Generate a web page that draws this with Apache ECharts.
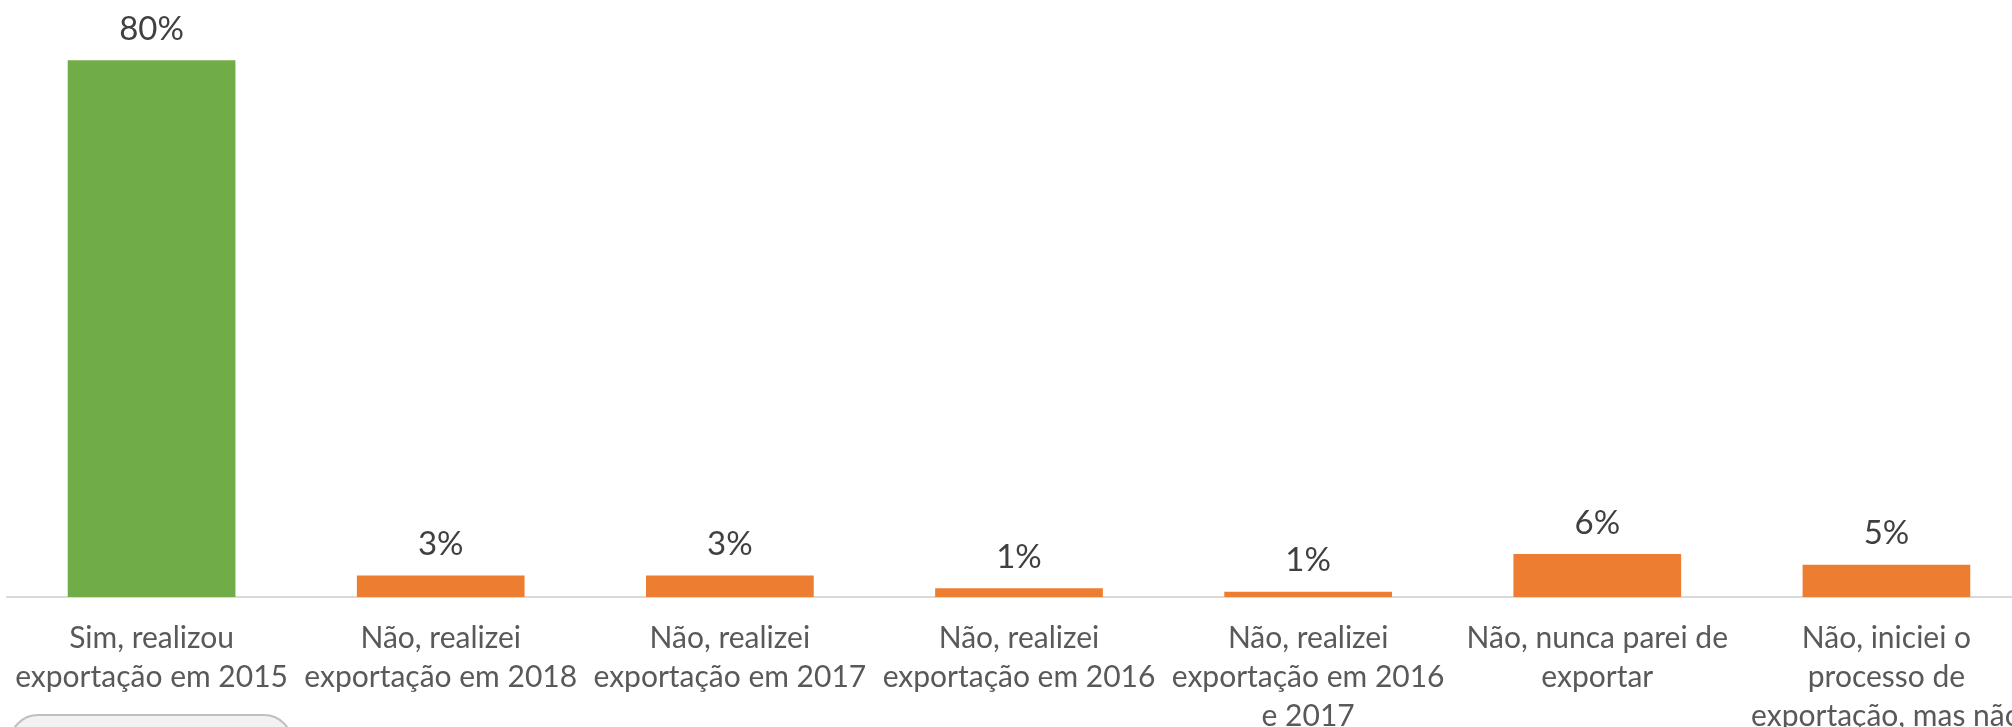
<!DOCTYPE html>
<html>
<head>
<meta charset="utf-8">
<script src="https://cdn.jsdelivr.net/npm/echarts@6/dist/echarts.min.js"></script>
<style>
  html, body { margin: 0; padding: 0; overflow: hidden; background: #fff; }
  #chart { width: 2040px; height: 727px; }
</style>
</head>
<body>
<div id="chart"></div>
<script>
const categories = [
  "Sim, realizou\nexportação em 2015",
  "Não, realizei\nexportação em 2018",
  "Não, realizei\nexportação em 2017",
  "Não, realizei\nexportação em 2016",
  "Não, realizei\nexportação em 2016\ne 2017",
  "Não, nunca parei de\nexportar",
  "Não, iniciei o\nprocesso de\nexportação, mas não"
];
// percentuais (rótulo mostra o valor arredondado)
const values = [80, 3.2, 3.2, 1.3, 0.8, 6.4, 4.8];
const barColors = ["#70ad47", "#ed7d31", "#ed7d31", "#ed7d31", "#ed7d31", "#ed7d31", "#ed7d31"];

const chart = echarts.init(document.getElementById("chart"));

const option = {
  animation: false,
  grid: { left: 7, right: 9, top: 0, bottom: 130, outerBoundsMode: "none" },
  xAxis: {
    type: "category",
    data: categories,
    axisLine: { lineStyle: { color: "#d9d9d9", width: 2 } },
    axisTick: { show: false },
    axisLabel: {
      interval: 0,
      color: "#595959",
      fontFamily: "Lato",
      fontSize: 30,
      lineHeight: 39,
      margin: 22
    }
  },
  yAxis: {
    type: "value",
    min: 0,
    max: 89,
    show: false
  },
  series: [
    {
      type: "bar",
      data: values.map((v, i) => ({ value: v, itemStyle: { color: barColors[i] } })),
      barCategoryGap: "42%",
      label: {
        show: true,
        position: "top",
        distance: 14,
        color: "#404040",
        fontFamily: "Lato",
        fontSize: 33,
        lineHeight: 34,
        formatter: p => Math.round(p.value) + "%"
      }
    }
  ],
  graphic: [
    {
      type: "rect",
      shape: { x: 10, y: 715, width: 282, height: 60, r: 28 },
      style: { fill: "#f2f2f2", stroke: "#bfbfbf", lineWidth: 2 }
    }
  ]
};

chart.setOption(option);
window.addEventListener("resize", () => chart.resize());
</script>
</body>
</html>
